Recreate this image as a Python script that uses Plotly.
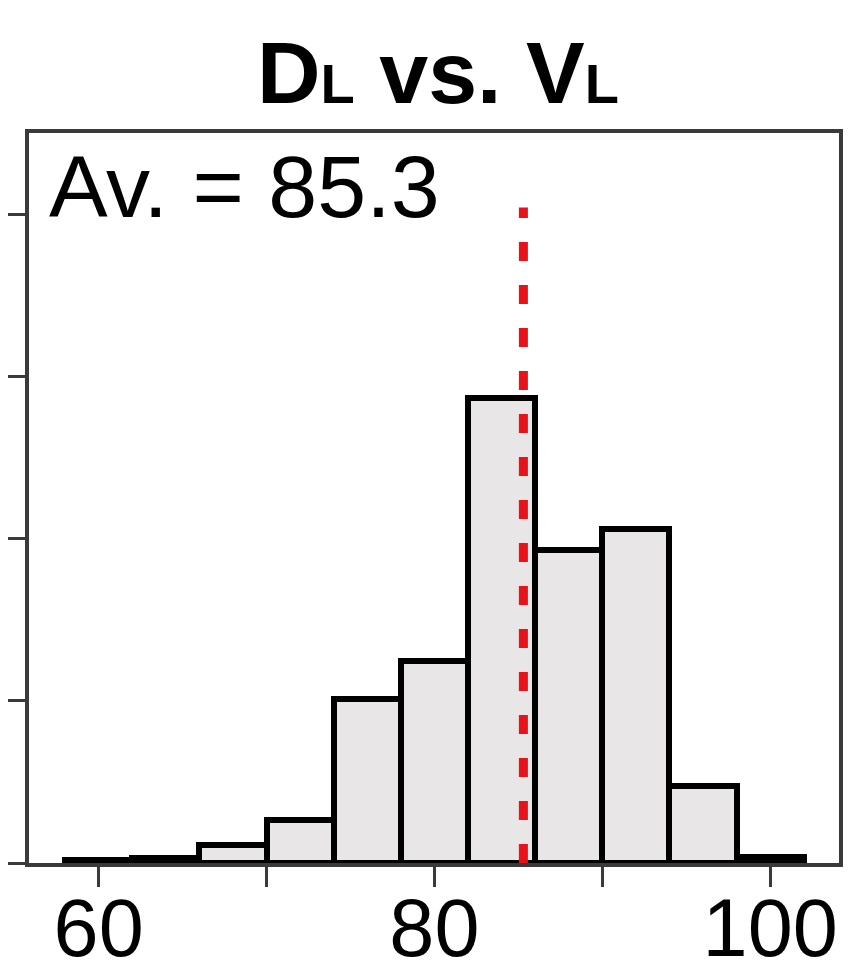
import plotly.graph_objects as go

# Histogram data (density per bin, bins of width 4)
bin_left = [58, 62, 66, 70, 74, 78, 82, 86, 90, 94, 98]
bin_width = 4
density = [0.0005, 0.0008, 0.0028, 0.0066, 0.0253, 0.0312, 0.0716, 0.0482, 0.0515, 0.0119, 0.0009]
average = 85.3
avg_line_top = 0.101

x_ticks = [60, 70, 80, 90, 100]
x_tick_text = ["60", "", "80", "", "100"]
y_ticks = [0, 0.025, 0.05, 0.075, 0.1]

centers = [b + bin_width / 2 for b in bin_left]

fig = go.Figure()
fig.add_trace(go.Bar(
    x=centers, y=density, width=[bin_width] * len(centers),
    marker=dict(color="#e8e6e6", line=dict(color="black", width=6)),
    showlegend=False, hoverinfo="skip",
))
fig.add_trace(go.Scatter(
    x=[average, average], y=[0, avg_line_top], mode="lines",
    line=dict(color="#e8121b", width=9, dash="19px,24px"),
    showlegend=False, hoverinfo="skip",
))

frame_color = "#3a3a3a"
# page body has an 8px margin, so the figure is sized/offset to compensate
fig.update_layout(
    width=850, height=971,
    margin=dict(l=21, r=19, t=125, b=116),
    paper_bgcolor="white", plot_bgcolor="white",
    font=dict(family="Liberation Sans, Arial, sans-serif", color="black"),
    bargap=0,
    xaxis=dict(
        range=[55.85, 104.1], tickvals=x_ticks, ticktext=x_tick_text,
        ticks="outside", ticklen=20, tickwidth=3, tickcolor=frame_color,
        showline=True, linecolor=frame_color, linewidth=3.5, mirror=True,
        showgrid=False, zeroline=False, automargin=False,
        ticklabelstandoff=-28,
        tickfont=dict(size=81, color="black"),
    ),
    yaxis=dict(
        range=[0, 0.1125], tickvals=y_ticks, showticklabels=False,
        ticks="outside", ticklen=17, tickwidth=3, tickcolor=frame_color,
        showline=True, linecolor=frame_color, linewidth=3.5, mirror=True,
        showgrid=False, zeroline=False, automargin=False,
    ),
    annotations=[
        dict(
            text="<b>D<span style='font-size:56px'>L</span> vs. V<span style='font-size:56px'>L</span></b>",
            xref="paper", yref="paper", x=0.505, y=1.0117, xanchor="center", yanchor="bottom",
            showarrow=False, font=dict(size=88, color="black"),
        ),
        dict(
            text=f"Av. = {average}",
            xref="paper", yref="paper", x=0.022, y=0.9973, xanchor="left", yanchor="top",
            showarrow=False, font=dict(size=88, color="black"),
        ),
    ],
)

fig.write_html("out.html")
